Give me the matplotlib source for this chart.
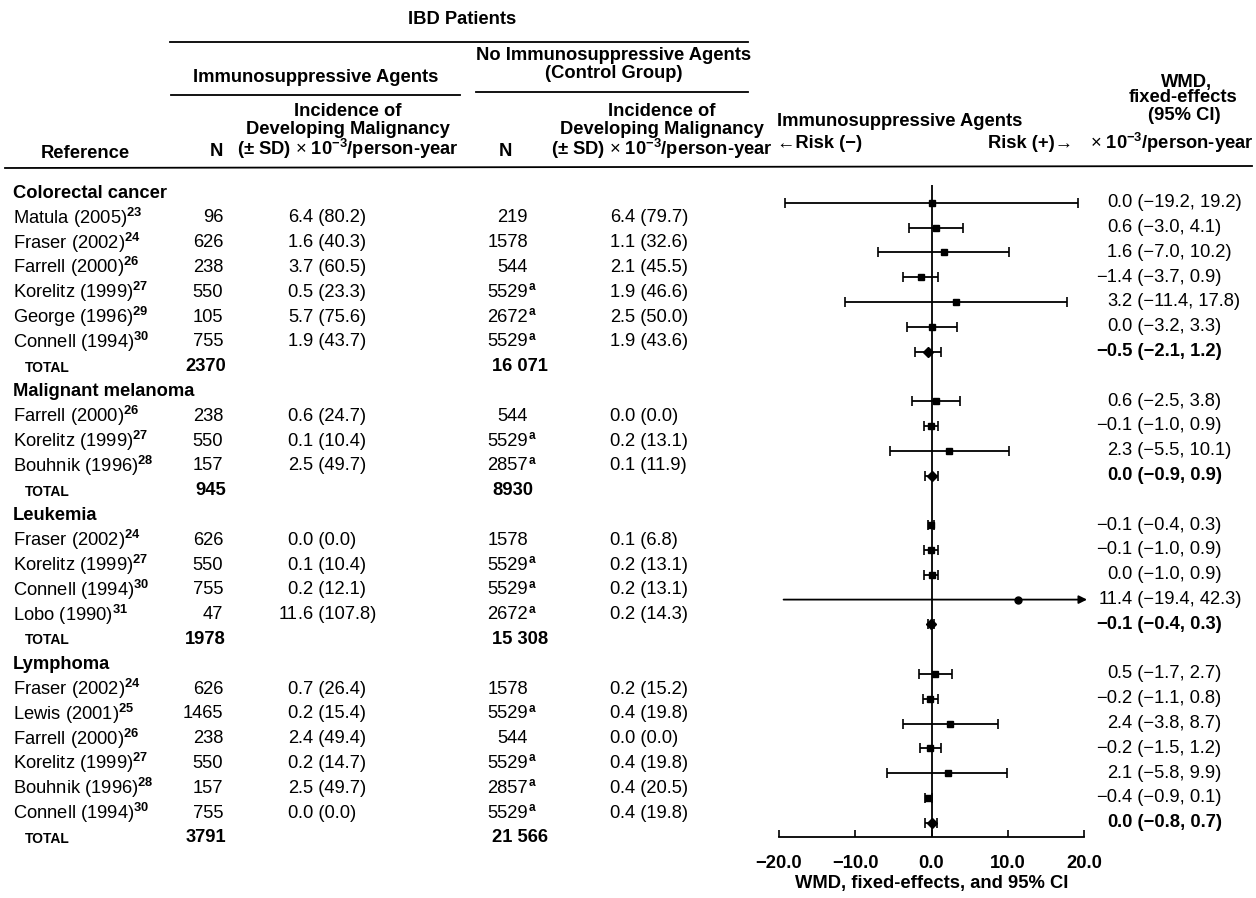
import matplotlib
matplotlib.use('Agg')
import matplotlib.pyplot as plt

plt.rcParams['font.family'] = ['Liberation Sans', 'DejaVu Sans']
plt.rcParams['mathtext.fontset'] = 'custom'
plt.rcParams['mathtext.rm'] = 'Liberation Sans'
plt.rcParams['mathtext.bf'] = 'Liberation Sans:bold'
plt.rcParams['mathtext.it'] = 'Liberation Sans:italic'
plt.rcParams['mathtext.sf'] = 'Liberation Sans'

# ---------------- data ----------------
group_names = ["Colorectal cancer", "Malignant melanoma", "Leukemia", "Lymphoma"]
study_group = [0, 0, 0, 0, 0, 0, 1, 1, 1, 2, 2, 2, 2, 3, 3, 3, 3, 3, 3]
study_names = ["Matula (2005)", "Fraser (2002)", "Farrell (2000)", "Korelitz (1999)",
               "George (1996)", "Connell (1994)",
               "Farrell (2000)", "Korelitz (1999)", "Bouhnik (1996)",
               "Fraser (2002)", "Korelitz (1999)", "Connell (1994)", "Lobo (1990)",
               "Fraser (2002)", "Lewis (2001)", "Farrell (2000)", "Korelitz (1999)",
               "Bouhnik (1996)", "Connell (1994)"]
study_cites = [23, 24, 26, 27, 29, 30, 26, 27, 28, 24, 27, 30, 31, 24, 25, 26, 27, 28, 30]
n_is = [96, 626, 238, 550, 105, 755, 238, 550, 157, 626, 550, 755, 47,
        626, 1465, 238, 550, 157, 755]
inc_is = [6.4, 1.6, 3.7, 0.5, 5.7, 1.9, 0.6, 0.1, 2.5, 0.0, 0.1, 0.2, 11.6,
          0.7, 0.2, 2.4, 0.2, 2.5, 0.0]
sd_is = [80.2, 40.3, 60.5, 23.3, 75.6, 43.7, 24.7, 10.4, 49.7, 0.0, 10.4, 12.1, 107.8,
         26.4, 15.4, 49.4, 14.7, 49.7, 0.0]
n_ctl = [219, 1578, 544, 5529, 2672, 5529, 544, 5529, 2857, 1578, 5529, 5529, 2672,
         1578, 5529, 544, 5529, 2857, 5529]
ctl_note = [0, 0, 0, 1, 1, 1, 0, 1, 1, 0, 1, 1, 1, 0, 1, 0, 1, 1, 1]
inc_ctl = [6.4, 1.1, 2.1, 1.9, 2.5, 1.9, 0.0, 0.2, 0.1, 0.1, 0.2, 0.2, 0.2,
           0.2, 0.4, 0.0, 0.4, 0.4, 0.4]
sd_ctl = [79.7, 32.6, 45.5, 46.6, 50.0, 43.6, 0.0, 13.1, 11.9, 6.8, 13.1, 13.1, 14.3,
          15.2, 19.8, 0.0, 19.8, 20.5, 19.8]
wmd = [0.0, 0.6, 1.6, -1.4, 3.2, 0.0, 0.6, -0.1, 2.3, -0.1, -0.1, 0.0, 11.4,
       0.5, -0.2, 2.4, -0.2, 2.1, -0.4]
wmd_lo = [-19.2, -3.0, -7.0, -3.7, -11.4, -3.2, -2.5, -1.0, -5.5, -0.4, -1.0, -1.0, -19.4,
          -1.7, -1.1, -3.8, -1.5, -5.8, -0.9]
wmd_hi = [19.2, 4.1, 10.2, 0.9, 17.8, 3.3, 3.8, 0.9, 10.1, 0.3, 0.9, 0.9, 42.3,
          2.7, 0.8, 8.7, 1.2, 9.9, 0.1]
total_n_is = [2370, 945, 1978, 3791]
total_n_ctl = [16071, 8930, 15308, 21566]
total_wmd = [-0.5, 0.0, -0.1, 0.0]
total_lo = [-2.1, -0.9, -0.4, -0.8]
total_hi = [1.2, 0.9, 0.3, 0.7]
axis_ticks = [-20, -10, 0, 10, 20]

# ---------------- layout ----------------
W, H = 1256, 898
fig = plt.figure(figsize=(W / 100, H / 100), dpi=100)
ax = fig.add_axes([0, 0, 1, 1])
ax.set_xlim(0, W)
ax.set_ylim(H, 0)
ax.axis('off')

FS = 13.2
FS_SUP = 8.5
Y0, DY = 193, 24.8
X_REF, X_NIS = 13, 223
X_INCIS_DEC, X_NCTL, X_INCCTL_DEC = 298, 528, 620
X_RC_DEC = 1117
FOREST_DY = -15
AX_Y, AX_TOP = 837, 150
X_AX0, X_AX1 = 779, 1084


def f1(v):
    return f"{v:.1f}".replace('-', '\u2212')


def thou(n):
    return f"{n:,}".replace(',', ' ') if n >= 10000 else str(n)


def dec_text(xd, y, s, **kw):
    i = s.index('.')
    ax.text(xd, y, s[:i], ha='right', va='center', **kw)
    ax.text(xd, y, s[i:], ha='left', va='center', **kw)


# header
hb = dict(fontweight='bold', fontsize=FS, va='center')
ax.text(462, 20, "IBD Patients", ha='center', **hb)
ax.plot([170, 748], [42, 42], color='black', lw=1.3)
ax.text(316, 77, "Immunosuppressive Agents", ha='center', **hb)
ax.text(614, 56, "No Immunosuppressive Agents", ha='center', **hb)
ax.text(614, 73, "(Control Group)", ha='center', **hb)
ax.plot([171, 460], [95, 95], color='black', lw=1.3)
ax.plot([476, 748], [92, 92], color='black', lw=1.3)
sub3 = r"(± SD) $\times$ 10$^{\mathbf{-3}}$/person-year"
for cx in (348, 662):
    ax.text(cx, 111, "Incidence of", ha='center', **hb)
    ax.text(cx, 129, "Developing Malignancy", ha='center', **hb)
    ax.text(cx, 149, sub3, ha='center', **hb)
ax.text(85, 153, "Reference", ha='center', **hb)
ax.text(216, 152, "N", ha='center', **hb)
ax.text(505, 151, "N", ha='center', **hb)
ax.text(777, 121, "Immunosuppressive Agents", ha='left', **hb)
ax.text(777, 143, "\u2190Risk (\u2212)", ha='left', **hb)
ax.text(1073, 143, "Risk (+)\u2192", ha='right', **hb)
ax.text(1187, 82, "WMD,", ha='center', **hb)
ax.text(1183, 98, "fixed-effects", ha='center', **hb)
ax.text(1184, 115, "(95% CI)", ha='center', **hb)
ax.text(1254, 143, r"$\times$ 10$^{\mathbf{-3}}$/person-year", ha='right', **hb)
ax.plot([5, 1252], [168, 166], color='black', lw=1.3)

# body rows
rows = []
for g in range(len(group_names)):
    rows.append(('group', g))
    for i, sg in enumerate(study_group):
        if sg == g:
            rows.append(('study', i))
    rows.append(('total', g))

row_y = [Y0 + k * DY for k in range(len(rows))]

# forest axes (x in WMD units, y in pixel rows)
fa = fig.add_axes([X_AX0 / W, 1 - AX_Y / H, (X_AX1 - X_AX0) / W, (AX_Y - AX_TOP) / H])
fa.set_xlim(axis_ticks[0], axis_ticks[-1])
fa.set_ylim(AX_Y, AX_TOP)
fa.patch.set_alpha(0)
for s in ('top', 'left', 'right'):
    fa.spines[s].set_visible(False)
fa.spines['bottom'].set_linewidth(1.3)
fa.set_yticks([])
fa.set_xticks(axis_ticks)
fa.set_xticklabels([f1(t) for t in axis_ticks], fontweight='bold', fontsize=FS)
fa.tick_params(axis='x', direction='in', length=5, width=1.2, pad=13)
fa.set_xlabel("WMD, fixed-effects, and 95% CI", fontweight='bold', fontsize=FS, labelpad=2)
fa.vlines(0, 185, AX_Y, color='black', lw=1.3)

xmin, xmax = axis_ticks[0], axis_ticks[-1]


def right_val(y, v, lo, hi, bold):
    s = f"{f1(v)} ({f1(lo)}, {f1(hi)})"
    dec_text(X_RC_DEC, y, s, fontsize=FS, fontweight='bold' if bold else 'normal')


def forest(y, v, lo, hi, total):
    if hi > xmax:
        fa.annotate('', xy=(xmax + 0.4, y), xytext=(lo, y),
                    arrowprops=dict(arrowstyle='-|>', color='black', lw=1.3,
                                    mutation_scale=12, shrinkA=0, shrinkB=0),
                    annotation_clip=False)
        fa.plot([v], [y], marker='o', ms=5, color='black', clip_on=False)
    else:
        fa.errorbar([v], [y], xerr=[[v - lo], [hi - v]], fmt='D' if total else 's',
                    ms=5 if total else 4.5, color='black', ecolor='black',
                    elinewidth=1.3, capsize=3.5, capthick=1.2, clip_on=False)


for (kind, idx), y in zip(rows, row_y):
    fy = y + FOREST_DY
    if kind == 'group':
        ax.text(X_REF, y, group_names[idx], ha='left', va='center',
                fontweight='bold', fontsize=FS)
    elif kind == 'study':
        ax.text(X_REF, y, study_names[idx] + r"$^{\mathbf{" + str(study_cites[idx]) + "}}$",
                ha='left', va='center', fontsize=FS)
        ax.text(X_NIS, y, str(n_is[idx]), ha='right', va='center', fontsize=FS)
        dec_text(X_INCIS_DEC, y, f"{f1(inc_is[idx])} ({f1(sd_is[idx])})", fontsize=FS)
        ax.text(X_NCTL, y, str(n_ctl[idx]), ha='right', va='center', fontsize=FS)
        if ctl_note[idx]:
            ax.text(X_NCTL + 1, y - 5, 'a', ha='left', va='center',
                    fontsize=FS_SUP, fontweight='bold')
        dec_text(X_INCCTL_DEC, y, f"{f1(inc_ctl[idx])} ({f1(sd_ctl[idx])})", fontsize=FS)
        right_val(fy, wmd[idx], wmd_lo[idx], wmd_hi[idx], False)
        forest(fy, wmd[idx], wmd_lo[idx], wmd_hi[idx], False)
    else:
        ax.text(X_REF + 12, y + 1, "TOTAL", ha='left', va='center',
                fontweight='bold', fontsize=10)
        ax.text(X_NIS + 3, y, thou(total_n_is[idx]), ha='right', va='center',
                fontweight='bold', fontsize=FS)
        ax.text(X_NCTL - 36, y, thou(total_n_ctl[idx]), ha='left', va='center',
                fontweight='bold', fontsize=FS)
        right_val(fy, total_wmd[idx], total_lo[idx], total_hi[idx], True)
        forest(fy, total_wmd[idx], total_lo[idx], total_hi[idx], True)

fig.savefig('out.png', dpi=100)
